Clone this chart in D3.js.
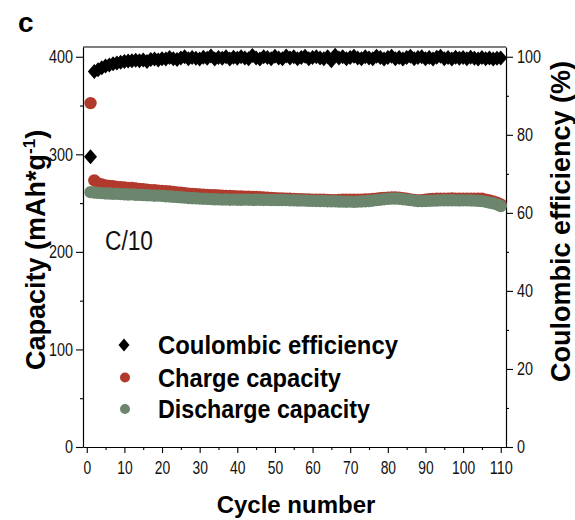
<!DOCTYPE html>
<html><head><meta charset="utf-8">
<script src="https://cdn.jsdelivr.net/npm/d3@7"></script>
<style>body{margin:0;background:#fff} svg{display:block;font-family:"Liberation Sans",Arial,sans-serif}</style>
</head><body><svg id="c" width="575" height="520"></svg>
<script>
// ---- data ----
const cycles = d3.range(1, 111);
const coulombicEfficiency = [
74.4,96.2,96.7,97.2,97.6,97.9,98.2,98.4,98.6,98.8,
98.9,99.0,99.1,99.0,99.2,98.8,99.3,99.4,99.2,99.5,
99.4,99.8,99.5,99.3,99.7,100.0,99.5,99.8,99.6,99.4,
99.9,99.6,100.2,99.4,99.8,99.6,100.0,99.4,99.9,99.6,
100.0,99.7,99.5,100.3,99.7,99.4,100.0,99.8,99.5,100.1,
99.7,99.5,100.2,99.7,100.0,99.5,99.8,100.1,99.5,99.8,
100.0,99.7,99.5,100.0,99.0,100.4,99.7,100.0,99.5,99.8,
100.1,99.7,99.5,100.0,99.7,99.5,100.1,99.8,99.4,99.8,
100.1,99.5,99.8,99.4,99.8,100.1,99.5,99.8,100.0,99.5,
99.8,99.4,99.9,100.1,99.5,99.8,99.4,99.9,99.6,99.8,
99.5,99.9,99.6,99.4,99.8,99.5,99.7,99.4,99.6,99.7];
const chargeCapacity = [
352.5,273.3,270.2,269.0,268.2,267.5,267.2,266.6,266.3,266.0,
265.4,265.5,265.0,264.6,264.2,263.8,263.1,263.3,262.8,262.5,
262.3,262.0,261.4,261.0,260.6,260.2,259.7,259.5,259.1,258.8,
258.6,258.4,258.2,258.0,257.8,257.6,257.4,257.3,257.0,256.9,
256.7,256.6,256.5,256.4,256.2,256.0,255.7,255.5,255.3,255.0,
254.8,254.7,254.5,254.4,254.3,254.1,254.0,253.8,253.7,253.6,
253.5,253.5,253.4,253.2,253.0,253.0,253.2,253.4,253.5,253.4,
253.5,253.6,253.5,253.7,253.8,254.2,254.6,255.0,255.4,255.6,
255.8,255.7,255.6,255.0,254.4,253.8,253.2,252.8,253.0,253.5,
254.0,254.3,254.5,254.6,254.6,254.5,254.7,254.6,254.6,254.5,
254.6,254.6,254.5,254.6,254.4,253.6,252.6,251.8,250.5,248.6];
const dischargeCapacity = [
261.2,260.8,260.5,260.2,259.9,259.8,259.5,259.6,259.2,259.0,
258.8,258.9,258.5,258.4,258.3,258.0,257.9,257.6,257.7,257.4,
257.0,256.8,256.5,256.3,256.0,255.6,255.3,255.0,254.9,254.6,
254.5,254.3,254.1,253.9,253.8,253.6,253.7,253.5,253.6,253.5,
253.4,253.6,253.5,253.3,253.5,253.4,253.2,253.3,253.1,253.2,
253.0,253.1,253.0,252.8,252.9,252.6,252.7,252.5,252.4,252.3,
252.2,252.0,252.1,251.9,251.8,251.9,251.6,251.5,251.4,251.5,
251.3,251.5,251.7,251.9,252.1,252.6,253.0,253.5,254.0,254.4,
254.6,254.7,254.5,254.0,253.6,253.0,252.5,252.1,252.0,252.2,
252.3,252.5,252.6,252.8,252.9,252.8,252.9,252.8,252.7,252.8,
252.8,252.7,252.5,252.3,252.0,251.4,250.5,249.8,248.6,247.0];
const xTicks = [0,10,20,30,40,50,60,70,80,90,100,110];
const xMinor = [5,15,25,35,45,55,65,75,85,95,105];
const yLeftTicks = [0,100,200,300,400];
const yLeftMinor = [50,150,250,350];
const yRightTicks = [0,20,40,60,80,100];
const yRightMinor = [10,30,50,70,90];
const legendLabels = ["Coulombic efficiency","Charge capacity","Discharge capacity"];
const colors = {ce:"#000000", charge:"#b13a2c", discharge:"#6b866d"};

// ---- layout ----
const L = 83, R = 506, T = 47, B = 447;
const svg = d3.select("#c");
const x = d3.scaleLinear().domain([-1, 111.4]).range([L, R]);
const yL = d3.scaleLinear().domain([0, 410]).range([B, T]);
const yR = d3.scaleLinear().domain([0, 102.5]).range([B, T]);

function styleTicks(g, charW){
  g.selectAll("path.domain").attr("stroke","#000").attr("stroke-width",1.2);
  g.selectAll(".tick line").attr("stroke","#000").attr("stroke-width",1.1);
  g.selectAll(".tick text").attr("font-size",18).attr("fill","#111")
    .attr("font-family","'Liberation Sans',Arial,sans-serif")
    .each(function(){ const t=d3.select(this); t.attr("textLength", t.text().length*charW).attr("lengthAdjust","spacingAndGlyphs"); });
}
function minor(g){ g.selectAll("path.domain").remove(); g.selectAll(".tick text").remove();
  g.selectAll(".tick line").attr("stroke","#000").attr("stroke-width",1.1); }

// bottom axis
svg.append("g").attr("transform",`translate(0,${B})`)
  .call(d3.axisBottom(x).tickValues(xMinor).tickSize(3).tickSizeOuter(0).tickFormat("")).call(minor);
svg.append("g").attr("transform",`translate(0,${B})`)
  .call(d3.axisBottom(x).tickValues(xTicks).tickSize(6).tickSizeOuter(0).tickPadding(8))
  .call(g=>styleTicks(g,7.7));
// left axis
svg.append("g").attr("transform",`translate(${L},0)`)
  .call(d3.axisLeft(yL).tickValues(yLeftMinor).tickSize(3).tickSizeOuter(0).tickFormat("")).call(minor);
svg.append("g").attr("transform",`translate(${L},0)`)
  .call(d3.axisLeft(yL).tickValues(yLeftTicks).tickSize(7).tickSizeOuter(0).tickPadding(3))
  .call(g=>styleTicks(g,8.0));
// right axis
svg.append("g").attr("transform",`translate(${R},0)`)
  .call(d3.axisRight(yR).tickValues(yRightMinor).tickSize(3).tickSizeOuter(0).tickFormat("")).call(minor);
svg.append("g").attr("transform",`translate(${R},0)`)
  .call(d3.axisRight(yR).tickValues(yRightTicks).tickSize(7).tickSizeOuter(0).tickPadding(4))
  .call(g=>styleTicks(g,8.0));
// top frame line
svg.append("line").attr("x1",L).attr("x2",R).attr("y1",T).attr("y2",T).attr("stroke","#000").attr("stroke-width",1.2);

// ---- marks ----
const diamond = (w,h)=>`M0,${-h}L${w},0L0,${h}L${-w},0Z`;
const plot = svg.append("g");
plot.selectAll("path.ce").data(cycles).join("path").attr("class","ce")
  .attr("d", diamond(6.5,7.5))
  .attr("transform", (c,i)=>`translate(${x(c)},${yR(coulombicEfficiency[i])})`)
  .attr("fill", colors.ce);
plot.selectAll("circle.ch").data(cycles).join("circle").attr("class","ch")
  .attr("cx", c=>x(c)).attr("cy",(c,i)=>yL(chargeCapacity[i])).attr("r",6.2)
  .attr("fill", colors.charge);
plot.selectAll("circle.dis").data(cycles).join("circle").attr("class","dis")
  .attr("cx", c=>x(c)).attr("cy",(c,i)=>yL(dischargeCapacity[i])).attr("r",6.2)
  .attr("fill", colors.discharge);

// ---- legend ----
const legY = [345, 377.5, 409];
const legW = [240, 183, 212];
const lg = svg.append("g");
lg.append("path").attr("d", diamond(5.5,6.5)).attr("transform",`translate(124,${legY[0]})`).attr("fill",colors.ce);
lg.append("circle").attr("cx",125).attr("cy",legY[1]).attr("r",5).attr("fill",colors.charge);
lg.append("circle").attr("cx",125).attr("cy",legY[2]).attr("r",5).attr("fill",colors.discharge);
legendLabels.forEach((t,i)=>{
  lg.append("text").attr("x",158).attr("y",legY[i]+9.2).attr("font-size",25).attr("font-weight","bold")
    .attr("textLength",legW[i]).attr("lengthAdjust","spacingAndGlyphs").attr("fill","#000").text(t);
});

// ---- text labels ----
svg.append("text").attr("x",18).attr("y",32).attr("font-size",28).attr("font-weight","bold").text("c");
svg.append("text").attr("x",105).attr("y",250).attr("font-size",27)
  .attr("textLength",48).attr("lengthAdjust","spacingAndGlyphs").attr("fill","#111").text("C/10");
svg.append("text").attr("x",(L+R)/2+1.5).attr("y",513).attr("text-anchor","middle")
  .attr("font-size",24).attr("font-weight","bold").text("Cycle number");
const yl = svg.append("text").attr("transform","translate(45,370) rotate(-90)")
  .attr("font-size",27).attr("font-weight","bold");
yl.append("tspan").text("Capacity (mAh*g");
yl.append("tspan").attr("font-size",17).attr("dy",-10).text("-1");
yl.append("tspan").attr("dy",10).text(")");
svg.append("text").attr("transform","translate(570,221.5) rotate(-90)").attr("text-anchor","middle")
  .attr("font-size",27).attr("font-weight","bold").text("Coulombic efficiency (%)");
</script></body></html>
